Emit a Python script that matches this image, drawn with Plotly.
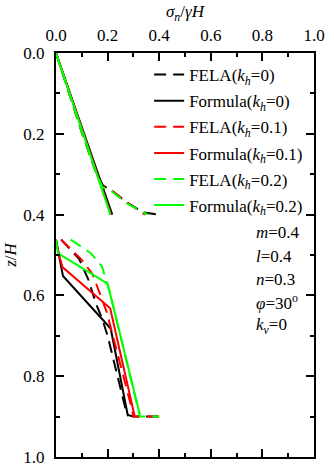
import plotly.graph_objects as go

# Normalised normal stress sigma_n/(gamma H) against depth z/H.
# Each series has an upper and a lower segment, separated by None.
fela_kh0_x = [0.0, 0.027, 0.056, 0.103, 0.152, 0.182, 0.215, 0.275, 0.34, 0.40,
              None, 0.02, 0.09, 0.125, 0.155, 0.18, 0.20, 0.275, 0.30, 0.40]
fela_kh0_z = [0.0, 0.053, 0.11, 0.202, 0.29, 0.328, 0.34, 0.37, 0.395, 0.40,
              None, 0.462, 0.51, 0.56, 0.62, 0.66, 0.70, 0.895, 0.90, 0.90]

formula_kh0_x = [0.0, 0.218, None, 0.0, 0.01, 0.027, 0.212, 0.279]
formula_kh0_z = [0.0, 0.40, None, 0.462, 0.497, 0.552, 0.682, 0.899]

fela_kh01_x = [0.0, 0.027, 0.056, 0.103, 0.152, 0.178, 0.215, 0.275, 0.345,
               None, 0.02, 0.10, 0.142, 0.166, 0.185, 0.196, 0.293, 0.30, 0.40]
fela_kh01_z = [0.0, 0.053, 0.11, 0.202, 0.29, 0.33, 0.34, 0.37, 0.40,
               None, 0.462, 0.512, 0.548, 0.589, 0.62, 0.64, 0.878, 0.90, 0.90]

formula_kh01_x = [0.0, 0.213, None, 0.0, 0.01, 0.025, 0.21, 0.305]
formula_kh01_z = [0.0, 0.40, None, 0.462, 0.497, 0.53, 0.632, 0.899]

fela_kh02_x = [0.0, 0.027, 0.056, 0.103, 0.152, 0.18, 0.215, 0.275, 0.355,
               None, 0.057, 0.136, 0.178, 0.196, 0.208, 0.317, 0.325, 0.40]
fela_kh02_z = [0.0, 0.053, 0.11, 0.202, 0.29, 0.332, 0.342, 0.372, 0.40,
               None, 0.462, 0.496, 0.528, 0.569, 0.59, 0.878, 0.90, 0.90]

formula_kh02_x = [0.0, 0.211, None, 0.0, 0.008, 0.20, 0.325]
formula_kh02_z = [0.0, 0.40, None, 0.462, 0.496, 0.571, 0.895]

series = [
    ("FELA(<i>k</i><sub><i>h</i></sub>=0)", fela_kh0_x, fela_kh0_z, "#000000", "12px,7px"),
    ("Formula(<i>k</i><sub><i>h</i></sub>=0)", formula_kh0_x, formula_kh0_z, "#000000", "solid"),
    ("FELA(<i>k</i><sub><i>h</i></sub>=0.1)", fela_kh01_x, fela_kh01_z, "#FF0000", "12px,7px"),
    ("Formula(<i>k</i><sub><i>h</i></sub>=0.1)", formula_kh01_x, formula_kh01_z, "#FF0000", "solid"),
    ("FELA(<i>k</i><sub><i>h</i></sub>=0.2)", fela_kh02_x, fela_kh02_z, "#00FF00", "12px,7px"),
    ("Formula(<i>k</i><sub><i>h</i></sub>=0.2)", formula_kh02_x, formula_kh02_z, "#00FF00", "solid"),
]

params = ["<i>m</i>=0.4", "<i>l</i>=0.4", "<i>n</i>=0.3",
          "<i>φ</i>=30<sup>o</sup>", "<i>k</i><sub><i>v</i></sub>=0"]

FONT = "Times New Roman, Liberation Serif, DejaVu Serif, serif"

fig = go.Figure()
for i, (name, xs, zs, color, dash) in enumerate(series):
    fig.add_trace(go.Scatter(
        x=xs, y=zs, mode="lines", name=name, legendgroup=str(i),
        line=dict(color=color, width=2, dash=dash),
        connectgaps=False,
    ))

axis_common = dict(
    showline=True, linecolor="black", linewidth=2, mirror="ticks",
    ticks="inside", ticklen=8, tickwidth=2, tickcolor="black",
    showgrid=False, zeroline=False,
    tickfont=dict(family=FONT, size=17, color="black"),
    minor=dict(ticks="inside", ticklen=4, tickwidth=2, tickcolor="black", dtick=0.1),
)

fig.update_xaxes(
    range=[0, 1], dtick=0.2, tickformat=".1f", side="top",
    ticklabelstandoff=3,
    title=dict(text="<i>σ<sub>n</sub></i>/<i>γH</i>",
               font=dict(family=FONT, size=17, color="black"), standoff=4),
    **axis_common,
)
fig.update_yaxes(
    range=[1, 0], dtick=0.2, tickformat=".1f",
    ticklabelstandoff=6,
    title=dict(text="<i>z</i>/<i>H</i>",
               font=dict(family=FONT, size=17, color="black"), standoff=2),
    **axis_common,
)

annotations = []
for k, txt in enumerate(params):
    annotations.append(dict(
        text=txt, xref="paper", yref="paper", x=0.768, y=0.555 - k * 0.0575,
        xanchor="left", yanchor="middle", showarrow=False,
        font=dict(family=FONT, size=17, color="black"),
    ))

fig.update_layout(
    width=334, height=476,
    margin=dict(l=46, r=12, t=53, b=9),
    paper_bgcolor="white", plot_bgcolor="white",
    font=dict(family=FONT, size=17, color="black"),
    legend=dict(
        x=0.361, y=0.99, xanchor="left", yanchor="top",
        bgcolor="rgba(0,0,0,0)", borderwidth=0,
        traceorder="grouped", tracegroupgap=1,
        font=dict(family=FONT, size=17, color="black"),
    ),
    annotations=annotations,
)

fig.write_html("out.html")
